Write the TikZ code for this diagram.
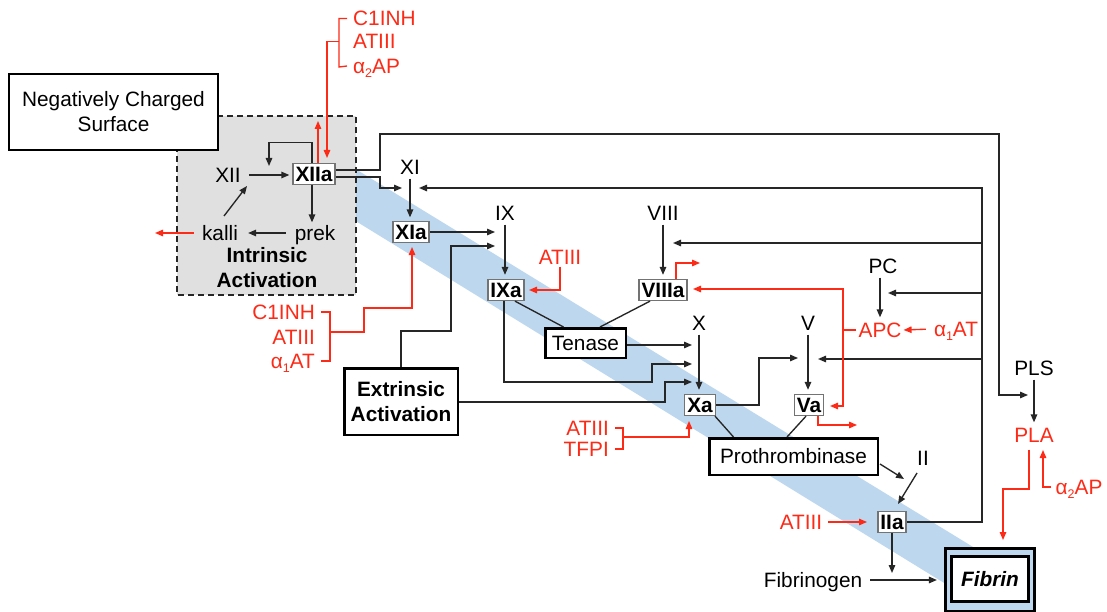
\documentclass[tikz,border=0pt]{standalone}
\usepackage{fontspec}
\setmainfont{Liberation Sans}
\usetikzlibrary{arrows.meta,calc}
\definecolor{bandblue}{RGB}{189,215,238}
\definecolor{inhred}{RGB}{252,42,22}
\definecolor{boxgray}{RGB}{224,224,224}
\newcommand{\lowsub}[1]{\raisebox{-4pt}{\fontsize{12.5}{12.5}\selectfont #1}}
\pgfdeclarelayer{bg}
\pgfsetlayers{bg,main}
\begin{document}
\begin{tikzpicture}[x=1pt,y=-1pt,
  every node/.style={font=\fontsize{20.8}{25}\selectfont},
  lab/.style={inner xsep=5pt, inner ysep=1pt, text height=14.9pt, text depth=0pt},
  rlab/.style={lab, text=inhred, inner xsep=2pt},
  fbox/.style={draw=black!55, line width=1.3pt, fill=white, font=\fontsize{20.8}{25}\selectfont\bfseries, inner xsep=2.5pt, inner ysep=0pt, minimum height=21pt, text height=14.9pt, text depth=0pt},
  bbox/.style={draw=black, line width=2.5pt, fill=white, align=center, inner sep=0pt},
  ln/.style={line width=1.35pt, draw=black!85},
  arr/.style={ln, -{Triangle[length=8pt,width=6.5pt]}},
  rln/.style={line width=1.35pt, draw=inhred},
  rarr/.style={rln, -{Triangle[length=8pt,width=6.5pt]}},
  gap/.style={shorten <=3pt, shorten >=4pt}]
\useasboundingbox (0,0) rectangle (1107,612);
\begin{pgfonlayer}{bg}
\fill[white] (0,0) rectangle (1107,612);
\fill[bandblue] (330,153.4) -- (1010,569.6) -- (1010,623.5) -- (330,205.25) -- cycle;
\draw[line width=2pt, draw=black!85, dash pattern=on 6pt off 4pt, fill=boxgray] (177,116) rectangle (356,295);
\end{pgfonlayer}

% nodes
\node[bbox, line width=2.2pt, minimum width=208.5pt, minimum height=75.5pt] (NCS) at (113.5,112) {Negatively Charged\\Surface};
\node[lab] (XII) at (228,175) {XII};
\node[fbox] (XIIa) at (314,174) {XIIa};
\node[lab] (prek) at (315,233) {prek};
\node[lab] (kalli) at (220,233) {kalli};
\node[align=center, font=\fontsize{20.8}{25}\selectfont\bfseries, inner sep=0pt] (intr) at (267,268) {Intrinsic\\Activation};

\node[rlab, anchor=west] (C1INHt) at (351,18.5) {C1INH};
\node[rlab, anchor=west] (ATIIIt) at (351,41.5) {ATIII};
\node[rlab, anchor=west] (a2APt) at (351,66) {α\lowsub{2}AP};

\node[rlab, anchor=east] (C1INHl) at (317,312) {C1INH};
\node[rlab, anchor=east] (ATIIIl) at (317,337) {ATIII};
\node[rlab, anchor=east] (a1ATl) at (317,361) {α\lowsub{1}AT};

\node[lab] (XI) at (410,167) {XI};
\node[fbox] (XIa) at (411,232) {XIa};
\node[lab] (IX) at (505,213) {IX};
\node[fbox] (IXa) at (506,290) {IXa};
\node[rlab] (ATIIIix) at (560,257) {ATIII};
\node[lab] (VIII) at (663,213) {VIII};
\node[fbox] (VIIIa) at (663,290) {VIIIa};
\node[bbox, minimum width=80.5pt, minimum height=29.5pt] (Tenase) at (585.5,343) {Tenase};
\node[bbox, minimum width=113.5pt, minimum height=66.5pt, font=\fontsize{20.8}{25}\selectfont\bfseries] (Extr) at (401,401.5) {Extrinsic\\Activation};
\node[lab] (PC) at (883,266) {PC};
\node[rlab] (APC) at (880,330) {APC};
\node[rlab] (a1ATr) at (956,329) {α\lowsub{1}AT};
\node[lab] (X) at (699,323) {X};
\node[fbox] (Xa) at (700,405) {Xa};
\node[lab] (V) at (808,323) {V};
\node[fbox] (Va) at (809,405) {Va};
\node[rlab, anchor=east] (ATIIIxa) at (611,428) {ATIII};
\node[rlab, anchor=east] (TFPI) at (611,449) {TFPI};
\node[bbox, minimum width=168.5pt, minimum height=36.5pt] (Pro) at (793.5,456.5) {Prothrombinase};
\node[lab] (II) at (923,458) {II};
\node[fbox] (IIa) at (892,522) {IIa};
\node[rlab] (ATIIIiia) at (801,522) {ATIII};
\node[lab] (Fgen) at (813,580) {Fibrinogen};
\node[draw, line width=3.2pt, fill=bandblue, minimum width=89pt, minimum height=63pt, inner sep=0pt] (FibO) at (990,580) {};
\node[draw, line width=3.2pt, fill=white, minimum width=77pt, minimum height=45pt, inner sep=0pt, font=\fontsize{20.8}{25}\selectfont\bfseries\itshape] (Fibrin) at (990,579) {Fibrin};
\node[lab] (PLS) at (1034,368) {PLS};
\node[rlab] (PLA) at (1034,435) {PLA};
\node[rlab] (a2APr) at (1079,487) {α\lowsub{2}AP};

% named free ends
\coordinate (loopend) at (269,166);
\coordinate (xiiaUp) at (318,121);
\coordinate (xiiaDn) at (327,158);
\coordinate (kalliOut) at (155,233);
\coordinate (plsIn) at (1028,395);
\coordinate (xiL) at (402,188);
\coordinate (xiR) at (419,188);
\coordinate (ixL1) at (495,232);
\coordinate (ixL2) at (495,246);
\coordinate (viiiR) at (673,243);
\coordinate (pcR) at (888,293);
\coordinate (vR) at (818,359);
\coordinate (xL1) at (692,345);
\coordinate (xL2) at (692,364);
\coordinate (xL3) at (692,382);
\coordinate (vL) at (798,358);
\coordinate (iiL) at (904,479);
\coordinate (fibJ) at (892,573);
\coordinate (fb1) at (982,243);
\coordinate (fb2) at (982,293);
\coordinate (fb3) at (982,359);
\coordinate (brT) at (339,41.5);
\coordinate (brL) at (330,332);
\coordinate (xiaDn) at (412,247);
\coordinate (ixaR) at (529,290);
\coordinate (viiiaOut) at (700,263);
\coordinate (apcJ) at (843,330);
\coordinate (viiiaR) at (693,289);
\coordinate (vaR) at (830,406);
\coordinate (vaOut) at (857,425);
\coordinate (brX) at (623,437);
\coordinate (xaDn) at (689,421);
\coordinate (iiaL) at (867,522);
\coordinate (fibIn) at (1003,540);
\coordinate (plaIn) at (1043,450);

% intrinsic
\draw[arr, shorten <=3pt, shorten >=3pt] (XII.east) -- (XII.east -| XIIa.west);
\draw[arr] ([shift={(-2,0)}]XIIa.north) -- ++(0,-20.5) -| (loopend);
\draw[rarr] (xiiaUp |- XIIa.north) -- (xiiaUp);
\draw[rln] ([shift={(-4,0)}]C1INHt.west) -| (339,67) -- ([shift={(-4,0)}]a2APt.west);
\draw[rarr] (brT) -| (xiiaDn);
\draw[arr, shorten >=2pt] ([shift={(-2,0)}]XIIa.south) -- ([shift={(-2,0)}]XIIa.south |- prek.north);
\draw[arr, shorten <=4pt, shorten >=5pt] (prek.west) -- (kalli.east);
\draw[arr] ([shift={(4,-17)}]kalli.center) -- ([shift={(19,11)}]XII.center);
\draw[rarr, shorten <=3pt] (kalli.west) -- (kalliOut);

% outputs of XIIa
\draw[arr] ([shift={(0,-4)}]XIIa.east) -| (380,134) -- (999,134) |- (plsIn);
\draw[arr] ([shift={(0,3)}]XIIa.east) -| (380,188) -- (xiL);

% thrombin feedback
\draw[arr] (IIa.east) -| (982,188) -- (xiR);
\draw[arr] (fb1) -- (viiiR);
\draw[arr] (fb2) -- (pcR);
\draw[arr] (fb3) -- (vR);

% XI / IX
\draw[arr, shorten <=3pt, shorten >=3.5pt] (XI.south) -- (XI.south |- XIa.north);
\draw[arr] (XIa.east) -- (ixL1);
\draw[arr] (Extr.north) |- (451,331) |- (ixL2);
\draw[rln] ([shift={(4,0)}]C1INHl.east) -| (330,361) -- ([shift={(4,0)}]a1ATl.east);
\draw[rarr] (brL) -| (364,308) -| (xiaDn);
\draw[arr, gap] (IX.south) -- (IX.south |- IXa.north);
\draw[rarr, shorten <=1pt] (ATIIIix.south) |- (ixaR);
\draw[arr, gap] (VIII.south) -- (VIII.south |- VIIIa.north);
\draw[rarr] ([shift={(13,0)}]VIIIa.north) |- (viiiaOut);

% tenase
\draw[ln] ([shift={(9,0)}]IXa.south) -- ([shift={(-22,0)}]Tenase.north);
\draw[ln] ([shift={(-13,0)}]VIIIa.south) -- ([shift={(14.5,0)}]Tenase.north);
\draw[arr] (xL1 -| Tenase.east) -- (xL1);
\draw[arr] ([shift={(-2,0)}]IXa.south) |- (652,382) |- (xL2);
\draw[arr] ([shift={(0,0.5)}]Extr.east) -| (665,382) -- (xL3);

% X / V
\draw[arr, gap] (X.south) -- (X.south |- Xa.north);
\draw[arr] (Xa.east) -| (759,358) -- (vL);
\draw[arr, gap] (V.south) -- (V.south |- Va.north);
\draw[rln] (APC.west) -- (apcJ);
\draw[rarr] (apcJ) |- (viiiaR);
\draw[rarr] (apcJ) |- (vaR);
\draw[rarr, shorten <=6pt] (a1ATr.west) -- (APC.east);
\draw[arr, gap] (APC.north |- PC.south) -- (APC.north);
\draw[rarr] ([shift={(9,0)}]Va.south) |- (vaOut);
\draw[rln] ([shift={(4,0)}]ATIIIxa.east) -| (623,449) -- ([shift={(4,0)}]TFPI.east);
\draw[rarr] (brX) -| (xaDn);

% prothrombinase
\draw[ln] ([shift={(15,0)}]Xa.south) -- ([shift={(-60,0)}]Pro.north);
\draw[ln] ([shift={(-3,0)}]Va.south) -- ([shift={(-6.5,0)}]Pro.north);
\draw[arr] ([shift={(1,7.5)}]Pro.east) -- (iiL);
\draw[arr] ([shift={(-6,15)}]II.center) -- ([shift={(6,-18)}]IIa.center);
\draw[rarr, shorten <=4pt] (ATIIIiia.east) -- (iiaL);

% fibrin
\draw[arr] (IIa.south) -- (fibJ);
\draw[arr, shorten <=3pt, shorten >=7pt] (Fgen.east) -- (FibO.west);
\draw[arr, gap] (PLS.south) -- (PLS.south |- PLA.north);
\draw[rarr] ([shift={(-5,6)}]PLA.south) |- (1003,489) -- (fibIn);
\draw[rarr] ([shift={(-2,0)}]a2APr.west) -| (plaIn);
\end{tikzpicture}
\end{document}
